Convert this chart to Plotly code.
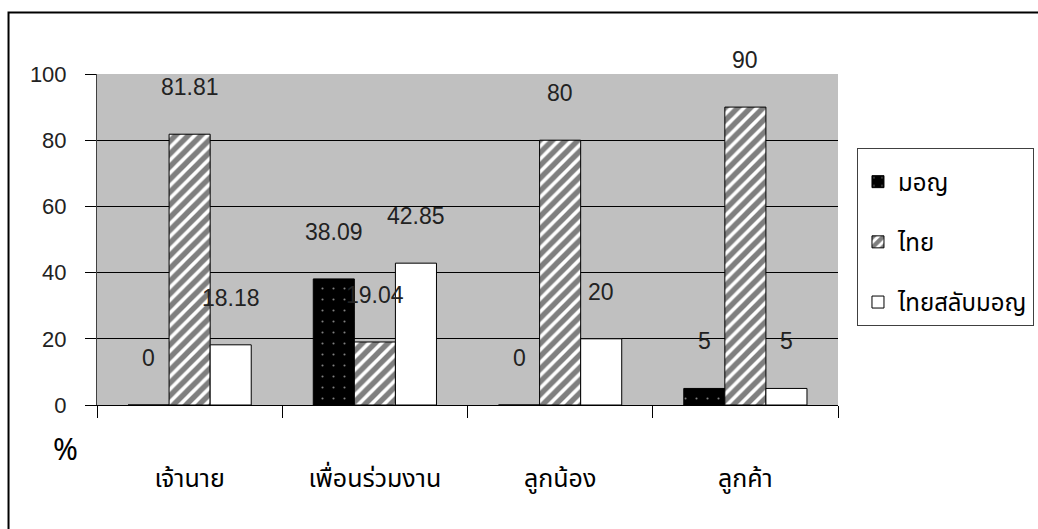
import plotly.graph_objects as go

# Survey groups and the share (%) answering in each language
categories = ["เจ้านาย", "เพื่อนร่วมงาน", "ลูกน้อง", "ลูกค้า"]
series_names = ["มอญ", "ไทย", "ไทยสลับมอญ"]
mon_values = [0, 38.09, 0, 5]
thai_values = [81.81, 19.04, 80, 90]
mixed_values = [18.18, 42.85, 20, 5]
y_ticks = [0, 20, 40, 60, 80, 100]

NUM_FONT = "Liberation Sans, Arial, sans-serif"
THAI_FONT = "Tahoma, 'Noto Sans Thai', 'Noto Sans Thai Looped', Loma, Garuda, 'Tlwg Typo', sans-serif"

BARGAP = 0.335
series_values = [mon_values, thai_values, mixed_values]
patterns = [
    dict(color="black", pattern=dict(shape=".", fgcolor="white", bgcolor="black", size=11, solidity=0.03)),
    dict(color="white", pattern=dict(shape="/", fgcolor="black", bgcolor="white", size=9, solidity=0.6)),
    dict(color="white"),
]

fig = go.Figure()
for i, (name, vals, mk) in enumerate(zip(series_names, series_values, patterns)):
    fig.add_trace(go.Bar(
        x=categories, y=vals, name=name, legendgroup=name,
        marker=dict(line=dict(color="black", width=1), **mk),
    ))

# Value labels sit above each bar, centred on it
bar_w = (1 - BARGAP) / 3
annotations = []
for k, vals in enumerate(series_values):
    for i, v in enumerate(vals):
        annotations.append(dict(
            x=i + (k - 1) * bar_w, y=v, xref="x", yref="y",
            text=f"{v:g}", showarrow=False, yshift=47, yanchor="middle",
            font=dict(family=NUM_FONT, size=23, color="#222222"),
        ))

# Percent sign under the value axis
annotations.append(dict(
    x=-0.043, y=-0.139, xref="paper", yref="paper", text="%", showarrow=False,
    xanchor="center", yanchor="middle",
    font=dict(family=THAI_FONT, size=30, color="black"),
))

fig.update_layout(
    width=1038, height=529,
    margin=dict(l=97, r=200, t=74, b=124, autoexpand=False),
    paper_bgcolor="white", plot_bgcolor="#c0c0c0",
    barmode="group", bargap=BARGAP, bargroupgap=0,
    font=dict(family=NUM_FONT, size=22, color="black"),
    annotations=annotations,
    legend=dict(
        x=1.0256, xanchor="left", y=0.776, yanchor="top",
        bgcolor="white", bordercolor="#404040", borderwidth=1,
        font=dict(family=THAI_FONT, size=24, color="black"),
        tracegroupgap=26,
        title=dict(text=" ", font=dict(size=8)),
    ),
    shapes=[dict(
        type="rect", xref="paper", yref="paper",
        x0=-0.1194, x1=1.3, y0=-0.45, y1=1.1858,
        line=dict(color="black", width=2), fillcolor="rgba(0,0,0,0)", layer="above",
    )],
)

fig.update_yaxes(
    range=[0, 100], tickvals=y_ticks, showgrid=True, gridcolor="black", gridwidth=1,
    ticks="outside", ticklen=11, tickcolor="black", showline=True, linecolor="#404040",
    ticklabelstandoff=14, zeroline=False,
    tickfont=dict(family=NUM_FONT, size=22, color="#222222"),
)
fig.update_xaxes(
    ticks="outside", tickson="boundaries", ticklen=12, tickcolor="black",
    showline=True, linecolor="black", showgrid=False,
    ticklabelstandoff=51,
    tickfont=dict(family=THAI_FONT, size=25, color="black"),
)

fig.write_html("out.html")
